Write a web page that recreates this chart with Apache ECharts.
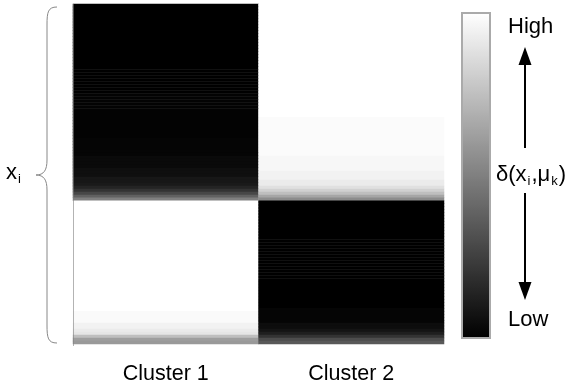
<!DOCTYPE html>
<html><head><meta charset="utf-8">
<script src="https://cdn.jsdelivr.net/npm/echarts@6/dist/echarts.min.js"></script>
<style>html,body{margin:0;padding:0;background:#fff}#c{width:568px;height:385px}</style>
</head><body><div id="c"></div>
<script>
// Categories (columns) and tick labels
var clusters = ['Cluster 1', 'Cluster 2'];
// Data points x_i: 66 rows belong to cluster 1, 48 rows to cluster 2 (sorted)
// Distance values (0 = Low / black, 1 = High / white)
var cluster1Top = [
  0,0,0,0,0,0,0,0,0,0, 0,0,0,0,0,0,0,0,0,0, 0,0,0,0,0,0,0,0,0,0,
  0.01,0.01,0.01,0.01,0.01,0.01,0.01,0.01,0.01,0.01,0.01,0.01,0.01,0.01,0.01,
  0.02,0.02,0.02,0.02,0.02,0.02,
  0.04,0.04,0.04,0.04,
  0.06,0.06,0.06,
  0.09,0.09,0.1,
  0.14,0.2,0.28,0.38,0.5
];
var cluster2Top = [
  1,1,1,1,1,1,1,1,1,1, 1,1,1,1,1,1,1,1,1,1, 1,1,1,1,1,1,1,1,1,1, 1,1,1,1,1,1,1,1,
  0.985,0.985,0.985,0.985,0.985,0.985,0.985,0.985,0.985,0.985,0.985,0.985,0.985,
  0.97,0.97,0.97,0.97,0.97,
  0.95,0.95,0.95,
  0.92,0.92,
  0.88,0.82,0.75,0.65,0.55
];
var cluster1Bottom = [
  1,1,1,1,1,1,1,1,1,1, 1,1,1,1,1,1,1,1,1,1, 1,1,1,1,1,1,1,1,1,1, 1,1,1,1,1,1,1,
  0.98,0.98,0.98,0.98,
  0.95,0.95,
  0.92,0.9,0.75,0.62,0.6
];
var cluster2Bottom = [
  0,0,0,0,0,0,0,0,0,0, 0,0,0,0,0,0,0,0,0,0, 0,0,0,0,0,0,0,0,0,0, 0,0,0,0,0,0,
  0.02,0.02,0.02,0.02,0.02,
  0.05,0.05,
  0.08,0.12,0.2,0.3,0.35
];

var col1 = cluster1Top.concat(cluster1Bottom);
var col2 = cluster2Top.concat(cluster2Bottom);
var rows = col1.map(function(_, i){ return 'x' + i; });
var data = [];
for (var i = 0; i < rows.length; i++) {
  data.push([0, i, col1[i]]);
  data.push([1, i, col2[i]]);
}

var chart = echarts.init(document.getElementById('c'));
var FONT = 'Liberation Sans, Arial, sans-serif';
var braceStyle = { fill: null, stroke: '#888', lineWidth: 1 };
var richTxt = { b: { fontSize: 22, fontFamily: FONT, fill: '#000' }, s: { fontSize: 13, fontFamily: FONT, fill: '#000', padding: [13, 1, 0, 1] } };
chart.setOption({
  animation: false,
  backgroundColor: '#fff',
  grid: { left: 73, top: 4, right: 124, bottom: 39 },
  xAxis: {
    type: 'category', data: clusters,
    axisLine: { show: false }, axisTick: { show: false }, splitLine: { show: false },
    axisLabel: { margin: 19, fontSize: 21.5, color: '#000', fontFamily: FONT }
  },
  yAxis: {
    type: 'category', data: rows, inverse: true,
    axisLine: { show: false }, axisTick: { show: false }, axisLabel: { show: false }, splitLine: { show: false }
  },
  visualMap: {
    type: 'continuous', min: 0, max: 1, calculable: false, show: true,
    orient: 'vertical', left: 462, top: 13, padding: 0,
    itemWidth: 28, itemHeight: 325, text: null, showLabel: false,
    inRange: { color: ['#000000', '#ffffff'] }
  },
  series: [{
    type: 'heatmap', data: data,
    itemStyle: { borderWidth: 0 },
    emphasis: { disabled: true }
  }],
  graphic: [
    { type: 'line', shape: { x1: 73.5, y1: 4, x2: 73.5, y2: 346 }, style: { stroke: 'rgba(128,128,128,0.6)', lineWidth: 1 }, z: 100, silent: true },
    { type: 'rect', shape: { x: 462, y: 13, width: 28, height: 325 }, style: { fill: null, stroke: '#aaa', lineWidth: 2 }, z: 100, silent: true },
    { type: 'bezierCurve', shape: { x1: 57, y1: 7, cpx1: 48, cpy1: 7, cpx2: 47, cpy2: 12, x2: 47, y2: 25 }, style: braceStyle, z: 100, silent: true },
    { type: 'line', shape: { x1: 47, y1: 25, x2: 47, y2: 160 }, style: braceStyle, z: 100, silent: true },
    { type: 'bezierCurve', shape: { x1: 47, y1: 160, cpx1: 47, cpy1: 170, cpx2: 44, cpy2: 175, x2: 36, y2: 175 }, style: braceStyle, z: 100, silent: true },
    { type: 'bezierCurve', shape: { x1: 36, y1: 175, cpx1: 44, cpy1: 175, cpx2: 47, cpy2: 180, x2: 47, y2: 190 }, style: braceStyle, z: 100, silent: true },
    { type: 'line', shape: { x1: 47, y1: 190, x2: 47, y2: 325 }, style: braceStyle, z: 100, silent: true },
    { type: 'bezierCurve', shape: { x1: 47, y1: 325, cpx1: 47, cpy1: 338, cpx2: 48, cpy2: 343, x2: 57, y2: 343 }, style: braceStyle, z: 100, silent: true },
    { type: 'text', left: 6, top: 162, style: { rich: richTxt, text: '{b|x}{s|i}' }, z: 100 },
    { type: 'text', left: 508, top: 16, style: { text: 'High', fontSize: 22, fontFamily: FONT, fill: '#000' }, z: 100 },
    { type: 'text', left: 508, top: 309, style: { text: 'Low', fontSize: 22, fontFamily: FONT, fill: '#000' }, z: 100 },
    { type: 'text', left: 496, top: 164, style: { rich: richTxt, text: '{b|δ(x}{s|i}{b|,μ}{s|k}{b|)}' }, z: 100 },
    { type: 'line', shape: { x1: 525, y1: 62, x2: 525, y2: 148 }, style: { stroke: '#000', lineWidth: 2 }, z: 100 },
    { type: 'polygon', shape: { points: [[525, 47], [518.5, 65], [531.5, 65]] }, style: { fill: '#000' }, z: 100 },
    { type: 'line', shape: { x1: 525, y1: 193, x2: 525, y2: 285 }, style: { stroke: '#000', lineWidth: 2 }, z: 100 },
    { type: 'polygon', shape: { points: [[525, 300], [518.5, 282], [531.5, 282]] }, style: { fill: '#000' }, z: 100 }
  ]
});
</script>
</body></html>
